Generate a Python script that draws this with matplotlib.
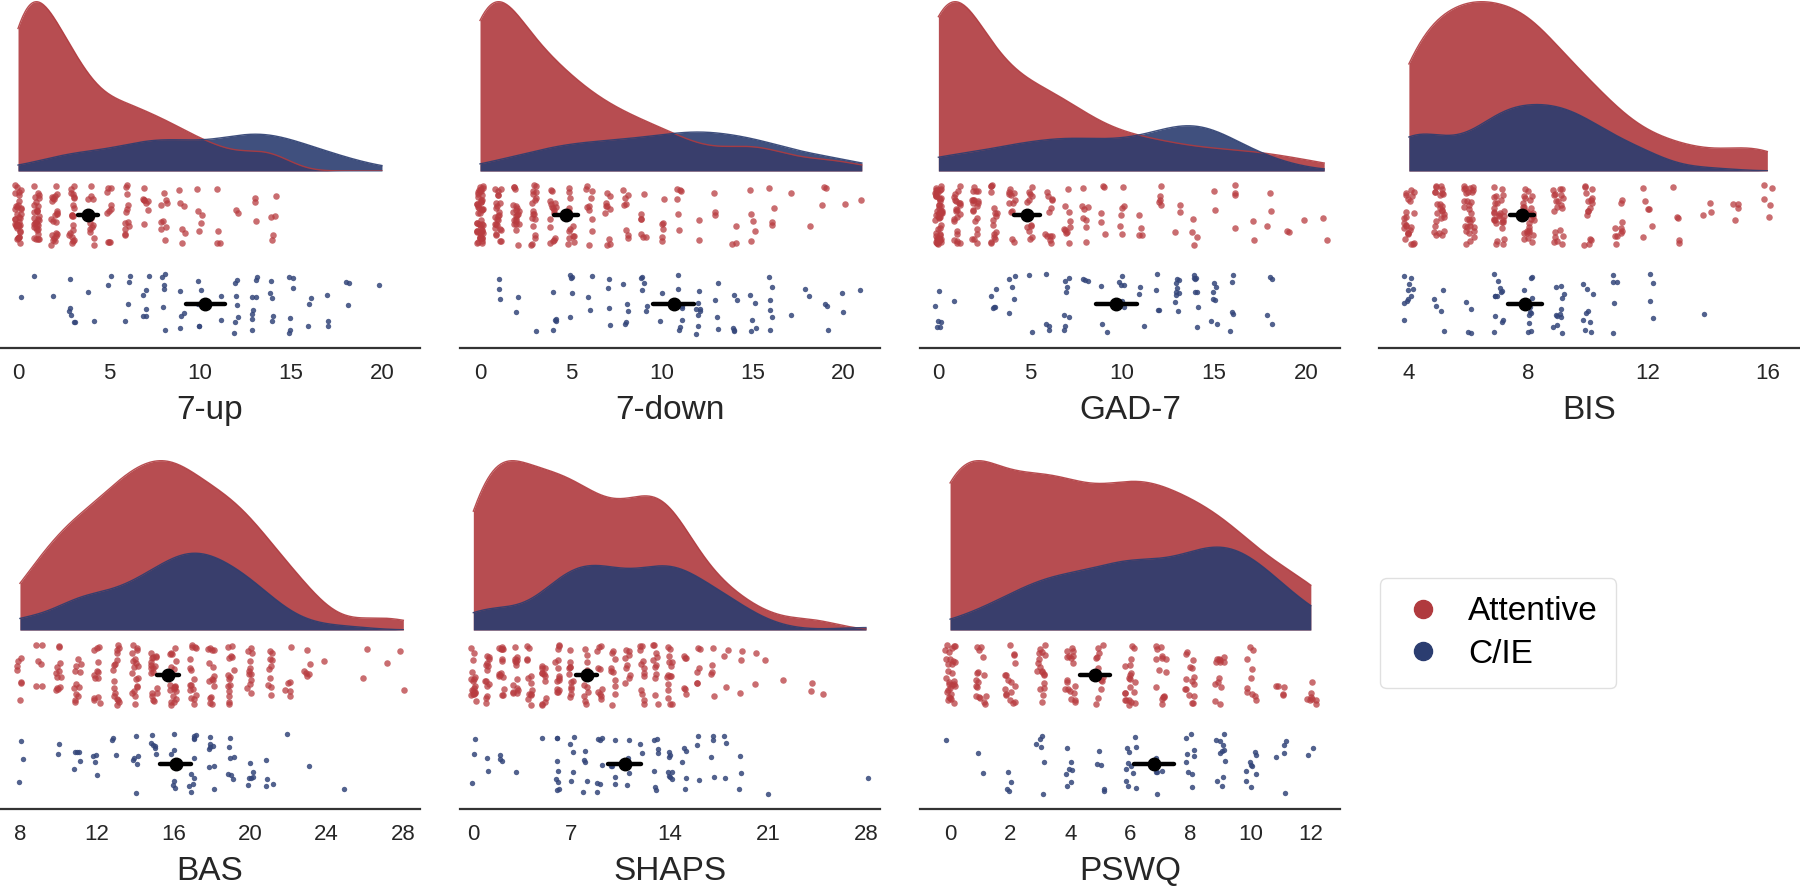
import numpy as np
import matplotlib
matplotlib.use("Agg")
import matplotlib.pyplot as plt
from matplotlib.lines import Line2D

plt.rcParams['font.family'] = ['Liberation Sans', 'DejaVu Sans']

# counts of participants at each score
scales = ["7-up", "7-down", "GAD-7", "BIS", "BAS", "SHAPS", "PSWQ"]

up_vals = list(range(0, 21))
up_att = [38, 30, 22, 20, 12, 10, 12, 8, 9, 6, 5, 4, 2, 3, 5, 0, 0, 0, 0, 0, 0]
up_cie = [1, 1, 1, 6, 2, 2, 4, 6, 6, 4, 5, 2, 7, 8, 5, 6, 3, 3, 3, 0, 1]

down_vals = list(range(0, 22))
down_att = [50, 25, 20, 18, 16, 14, 10, 10, 8, 7, 6, 6, 2, 3, 3, 5, 4, 1, 1, 3, 1, 1]
down_cie = [0, 3, 2, 1, 5, 5, 3, 4, 5, 6, 2, 7, 8, 4, 5, 5, 6, 1, 2, 3, 2, 1]

gad_vals = list(range(0, 22))
gad_att = [55, 22, 20, 16, 12, 12, 12, 10, 8, 5, 6, 4, 5, 3, 4, 2, 4, 2, 3, 2, 1, 2]
gad_cie = [6, 1, 0, 5, 5, 2, 4, 8, 3, 3, 6, 3, 4, 9, 8, 7, 5, 0, 4, 0, 0, 0]

bis_vals = list(range(4, 17))
bis_att = [24, 26, 30, 28, 28, 20, 16, 10, 6, 5, 3, 4, 5]
bis_cie = [10, 5, 4, 12, 11, 12, 9, 5, 4, 0, 1, 0, 0]

bas_vals = list(range(8, 29))
bas_att = [7, 6, 12, 12, 13, 16, 18, 18, 20, 16, 15, 15, 12, 10, 6, 6, 1, 0, 2, 1, 2]
bas_cie = [3, 0, 2, 5, 4, 3, 6, 6, 8, 10, 8, 7, 6, 4, 1, 1, 0, 1, 0, 0, 0]

shaps_vals = list(range(0, 29))
shaps_att = [18, 14, 15, 14, 13, 12, 14, 12, 12, 10, 10, 9, 12, 11, 15, 6, 6, 5, 3, 3,
             2, 1, 1, 0, 2, 1, 0, 0, 0]
shaps_cie = [3, 2, 3, 1, 0, 1, 8, 5, 5, 7, 5, 4, 2, 7, 8, 5, 3, 4, 3, 3,
             0, 1, 0, 0, 0, 0, 0, 0, 1]

pswq_vals = list(range(0, 13))
pswq_att = [30, 17, 16, 18, 18, 12, 20, 15, 15, 13, 10, 5, 8]
pswq_cie = [1, 2, 4, 6, 7, 5, 11, 5, 9, 11, 9, 5, 2]

score_vals = [up_vals, down_vals, gad_vals, bis_vals, bas_vals, shaps_vals, pswq_vals]
att_counts = [up_att, down_att, gad_att, bis_att, bas_att, shaps_att, pswq_att]
cie_counts = [up_cie, down_cie, gad_cie, bis_cie, bas_cie, shaps_cie, pswq_cie]

x_ticks = [[0, 5, 10, 15, 20], [0, 5, 10, 15, 20], [0, 5, 10, 15, 20], [4, 8, 12, 16],
           [8, 12, 16, 20, 24, 28], [0, 7, 14, 21, 28], [0, 2, 4, 6, 8, 10, 12]]
x_lims = [(-0.99, 22.09), (-1.1, 22.0), (-1.0, 21.86), (3.0, 17.06),
          (6.96, 28.87), (-0.95, 29.0), (-1.0, 12.97)]

groups = ["Attentive", "C/IE"]
kde_col = ["#b03a3e", "#2b3d70"]
pt_col = ["#b83c40", "#34467a"]

W, H = 1800, 886
fig = plt.figure(figsize=(W / 100, H / 100), dpi=100)

lefts = [0, 460, 920, 1379]
rows = [(0, 171, 348), (459, 630, 809)]
rng = np.random.default_rng(3)


def kde(x, grid, adj=0.9):
    bw = adj * np.std(x, ddof=1) * len(x) ** (-1 / 5)
    z = (grid[:, None] - x[None, :]) / bw
    return np.exp(-0.5 * z ** 2).sum(axis=1) / (len(x) * bw * np.sqrt(2 * np.pi))


def fax(l, t, w, h):
    return fig.add_axes([l / W, 1 - (t + h) / H, w / W, h / H])


for i, name in enumerate(scales):
    r, c = divmod(i, 4)
    top, mid, bot = rows[r]
    left = lefts[c]
    ax_k = fax(left, top, 420, mid - top)
    ax_s = fax(left, mid, 420, bot - mid)

    vals = np.array(score_vals[i])
    data = [np.repeat(vals, att_counts[i]).astype(float),
            np.repeat(vals, cie_counts[i]).astype(float)]
    ntot = len(data[0]) + len(data[1])
    lo = min(d.min() for d in data)
    hi = max(d.max() for d in data)
    grid = np.linspace(lo, hi, 300)

    peak = 0
    for g in range(2):
        dens = kde(data[g], grid) * len(data[g]) / ntot
        peak = max(peak, dens.max())
        ax_k.fill_between(grid, 0, dens, color=kde_col[g], alpha=0.9, lw=0)
        ax_k.plot(grid, dens, color=kde_col[g], lw=1, alpha=0.9)
    ax_k.set_xlim(x_lims[i])
    ax_k.set_ylim(0, peak * 1.01)
    ax_k.axis("off")

    for g in range(2):
        d = data[g]
        xj = d + rng.uniform(-0.18, 0.18, len(d))
        yj = g + rng.uniform(-0.34, 0.34, len(d))
        ax_s.scatter(xj, yj, s=22 if g == 0 else 15, color=pt_col[g],
                     alpha=0.75 if g == 0 else 0.85, lw=0, zorder=2)
        m = d.mean()
        ci = 1.96 * d.std(ddof=1) / np.sqrt(len(d))
        ax_s.plot([m - ci, m + ci], [g, g], color="black", lw=3.2, zorder=3,
                  solid_capstyle="round")
        ax_s.plot(m, g, "o", color="black", ms=9, zorder=4)

    ax_s.set_xlim(x_lims[i])
    ax_s.set_ylim(1.5, -0.5)
    ax_s.set_yticks([])
    ax_s.set_xticks(x_ticks[i])
    ax_s.tick_params(axis="x", length=0, pad=11, labelsize=16, labelcolor="#262626")
    for s in ["top", "left", "right"]:
        ax_s.spines[s].set_visible(False)
    ax_s.spines["bottom"].set_color("#333333")
    ax_s.spines["bottom"].set_linewidth(1.6)
    ax_s.set_xlabel(name, fontsize=24, color="#262626", labelpad=8)
    ax_s.patch.set_alpha(0)

handles = [Line2D([], [], ls="", marker="o", ms=13, color=kde_col[g]) for g in range(2)]
fig.legend(handles, groups, loc="upper left", bbox_to_anchor=(1380 / W, 1 - 578 / H),
           borderaxespad=0, fontsize=24, frameon=True, edgecolor="#d9d9d9",
           handletextpad=0.6, borderpad=0.55, labelspacing=0.35, handlelength=1.5,
           fancybox=True)

fig.savefig("out.png", dpi=100)
